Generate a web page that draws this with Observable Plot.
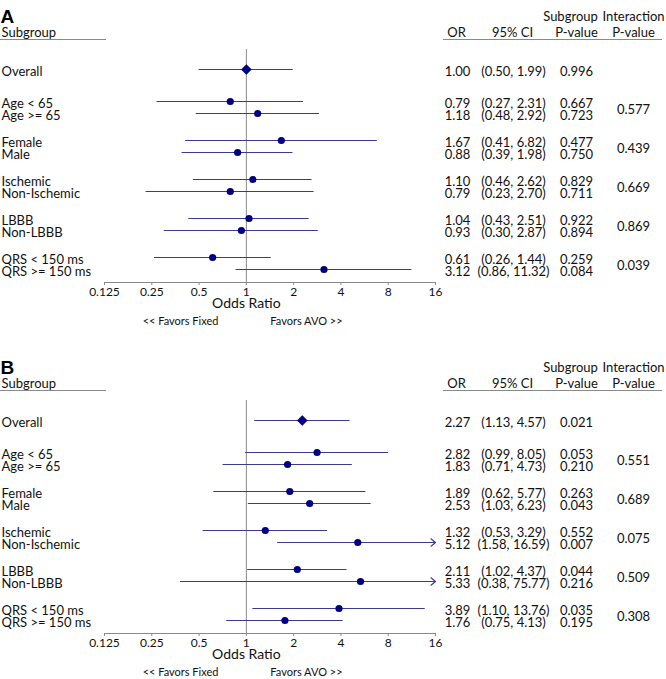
<!DOCTYPE html>
<html>
<head>
<meta charset="utf-8">
<script src="https://cdn.jsdelivr.net/npm/d3@7"></script>
<script src="https://cdn.jsdelivr.net/npm/@observablehq/plot@0.6"></script>
<style>
  html, body { margin: 0; padding: 0; background: white; overflow: hidden; }
  #chart svg { display: block; }
</style>
</head>
<body>
<div id="chart"></div>
<script>
// ---------- data ----------
const subgroups = ["Overall", "Age < 65", "Age >= 65", "Female", "Male",
  "Ischemic", "Non-Ischemic", "LBBB", "Non-LBBB", "QRS < 150 ms", "QRS >= 150 ms"];

const orA  = [1.00, 0.79, 1.18, 1.67, 0.88, 1.10, 0.79, 1.04, 0.93, 0.61, 3.12];
const loA  = [0.50, 0.27, 0.48, 0.41, 0.39, 0.46, 0.23, 0.43, 0.30, 0.26, 0.86];
const hiA  = [1.99, 2.31, 2.92, 6.82, 1.98, 2.62, 2.70, 2.51, 2.87, 1.44, 11.32];
const pA   = [0.996, 0.667, 0.723, 0.477, 0.750, 0.829, 0.711, 0.922, 0.894, 0.259, 0.084];
const intA = [0.577, 0.439, 0.669, 0.869, 0.039];

const orB  = [2.27, 2.82, 1.83, 1.89, 2.53, 1.32, 5.12, 2.11, 5.33, 3.89, 1.76];
const loB  = [1.13, 0.99, 0.71, 0.62, 1.03, 0.53, 1.58, 1.02, 0.38, 1.10, 0.75];
const hiB  = [4.57, 8.05, 4.73, 5.77, 6.23, 3.29, 16.59, 4.37, 75.77, 13.76, 4.13];
const pB   = [0.021, 0.053, 0.210, 0.263, 0.043, 0.552, 0.007, 0.044, 0.216, 0.035, 0.195];
const intB = [0.551, 0.689, 0.075, 0.509, 0.308];

const tickValues = [0.125, 0.25, 0.5, 1, 2, 4, 8, 16];
const refValue = 1;

// ---------- styling / layout ----------
const FONT = "Lato, 'Open Sans', sans-serif";
const NAVY = "#000080";
const LINE = "#3a3a90";
const GRAY = "#8a8a8a";
const overallGap = 32, groupStride = 39, pairGap = 12;

function rowPos(i) {
  if (i === 0) return 0;
  const g = Math.ceil(i / 2) - 1, s = (i - 1) % 2;
  return overallGap + g * groupStride + s * pairGap;
}

function panel(letter, or, lo, hi, p, inter, height) {
  const xMin = tickValues[0], xMax = tickValues[tickValues.length - 1];
  const rows = subgroups.map((label, i) => ({
    label, i, pos: rowPos(i), or: or[i], lo: lo[i], hi: hi[i],
    hiC: Math.min(hi[i], xMax), trunc: hi[i] > xMax,
    orText: or[i].toFixed(2),
    ciText: `(${lo[i].toFixed(2)}, ${hi[i].toFixed(2)})`,
    pText: p[i].toFixed(3)
  }));
  const inters = inter.map((v, g) => ({
    pos: (rowPos(2 * g + 1) + rowPos(2 * g + 2)) / 2, text: v.toFixed(3)
  }));
  const headerLine = -30;
  const T = (opts) => ({fontFamily: FONT, fontSize: 13, fill: "#111", ...opts});
  const H = (txt, dx, dy) => Plot.text([txt], T({frameAnchor: "top-right", textAnchor: "middle", dx, dy, text: d => d}));
  const C = (field, dx, data = rows) => Plot.text(data, T({y: "pos", frameAnchor: "right", textAnchor: "middle", dx, dy: 2.5, text: field}));

  return Plot.plot({
    width: 666, height,
    marginLeft: 104, marginRight: 231, marginTop: 49, marginBottom: height - 282,
    style: {fontFamily: FONT, background: "white"},
    x: {type: "log", base: 2, domain: [xMin, xMax]},
    y: {type: "linear", domain: [0, 200], range: [69, 269], axis: null},
    marks: [
      // reference line & axis
      Plot.ruleX([refValue], {stroke: GRAY, strokeWidth: 1}),
      Plot.frame({anchor: "bottom", stroke: GRAY}),
      Plot.axisX({ticks: tickValues, tickFormat: d => String(d), tickSize: 3, tickPadding: 2,
        fontSize: 12, label: null, stroke: GRAY, fill: "#111"}),
      Plot.text([refValue], T({x: d => d, frameAnchor: "bottom", dy: 25, fontSize: 14, text: () => "Odds Ratio"})),
      Plot.text([refValue], T({x: d => d, frameAnchor: "bottom", dy: 42, dx: -28, textAnchor: "end", fontSize: 11, text: () => "<< Favors Fixed"})),
      Plot.text([refValue], T({x: d => d, frameAnchor: "bottom", dy: 42, dx: 24, textAnchor: "start", fontSize: 11, text: () => "Favors AVO >>"})),
      // header rules
      Plot.ruleY([headerLine], {insetLeft: -104, insetRight: 329, stroke: GRAY}),
      Plot.ruleY([headerLine], {insetLeft: 339, insetRight: -227, stroke: GRAY}),
      // headers
      Plot.text([letter], T({frameAnchor: "top-left", dx: -104, dy: -40, textAnchor: "start",
        fontFamily: "'Liberation Sans', Arial, sans-serif", fontWeight: "bold", fontSize: 19, fill: "#000", text: d => d})),
      Plot.text(["Subgroup"], T({frameAnchor: "top-left", dx: -103, dy: -22, textAnchor: "start", text: d => d})),
      H("OR", 21, -22),
      H("95% CI", 77, -22),
      H("P-value", 141, -22),
      H("P-value", 198, -22),
      H("Subgroup", 135, -38),
      H("Interaction", 198, -38),
      // CI lines
      Plot.ruleY(rows.filter(d => !d.trunc), {y: "pos", x1: "lo", x2: "hi", stroke: LINE, strokeWidth: 1.1}),
      Plot.arrow(rows.filter(d => d.trunc), {x1: "lo", x2: "hiC", y1: "pos", y2: "pos",
        stroke: LINE, strokeWidth: 1.1, headLength: 8, headAngle: 80}),
      // points
      Plot.dot(rows.filter(d => d.i > 0), {x: "or", y: "pos", r: 3.6, fill: NAVY, stroke: "none"}),
      Plot.dot(rows.filter(d => d.i === 0), {x: "or", y: "pos", r: 4.8, symbol: "diamond2", fill: NAVY, stroke: "none"}),
      // table text
      Plot.text(rows, T({y: "pos", frameAnchor: "left", dx: -103, dy: 2.5, textAnchor: "start", text: "label"})),
      C("orText", 22),
      C("ciText", 78),
      C("pText", 141),
      C("text", 198, inters)
    ]
  });
}

const chart = document.getElementById("chart");
chart.append(panel("A", orA, loA, hiA, pA, intA, 351));
chart.append(panel("B", orB, loB, hiB, pB, intB, 328));
</script>
</body>
</html>
